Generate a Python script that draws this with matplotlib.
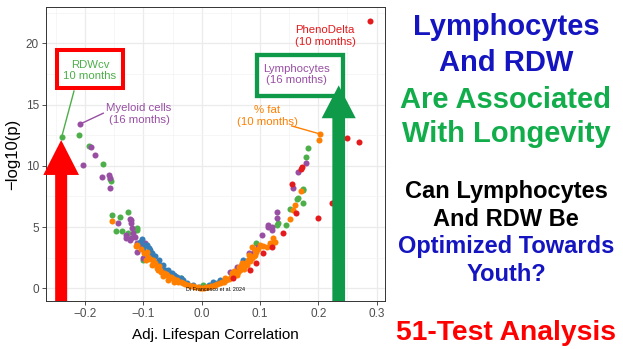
import matplotlib
matplotlib.use('Agg')
import matplotlib.pyplot as plt
from matplotlib.patches import Polygon, Rectangle
from matplotlib.ticker import MultipleLocator

plt.rcParams['font.family'] = ['Liberation Sans', 'DejaVu Sans']

# Colores (Set1)
C_GREEN = '#4DAF4A'
C_PURPLE = '#984EA3'
C_BLUE = '#377EB8'
C_ORANGE = '#FF7F00'
C_RED = '#E41A1C'

# Datos: correlación ajustada vs -log10(p)
green_x = [-0.240, -0.2105, -0.193, -0.170, -0.157, -0.156, -0.154, -0.140, -0.127, -0.137,
           -0.111, -0.126, -0.1115, -0.100, -0.036, 0.164, 0.174, 0.174, 0.183, 0.179,
           0.173, 0.165, 0.145, 0.131, 0.094, 0.151, 0.129, -0.147, 0.003]
green_y = [12.37, 12.5, 11.6, 10.15, 8.9, 8.75, 5.98, 5.8, 6.25, 4.68,
           4.9, 4.49, 4.76, 2.31, 0.82, 7.3, 8.0, 6.94, 11.43, 10.74,
           8.08, 7.35, 5.17, 5.3, 3.67, 6.5, 5.17, 4.7, 0.3]

purple_x = [-0.2087, -0.190, -0.1835, -0.203, -0.1715, -0.159, -0.158, -0.157, -0.143, -0.122,
            -0.120, -0.129, -0.121, -0.123, -0.121, -0.123, -0.114, -0.106, -0.097, -0.111,
            -0.111, -0.100, -0.0715, -0.060, -0.045, -0.130, -0.117,
            0.236, 0.179, 0.165, 0.156, 0.129, 0.130, 0.114, 0.120, 0.103, 0.082,
            0.060, 0.114, 0.120, 0.097, 0.070, 0.090, 0.048, 0.085]
purple_y = [13.4, 11.56, 10.9, 10.06, 9.1, 9.27, 8.2, 8.98, 5.3, 5.58,
            4.9, 4.35, 4.08, 5.63, 5.36, 3.94, 4.21, 3.53, 3.67, 2.99,
            3.67, 2.45, 1.49, 1.3, 1.0, 4.1, 4.5,
            17.0, 10.25, 9.49, 8.16, 6.25, 5.71, 5.03, 4.76, 4.35, 2.86,
            1.76, 5.17, 4.98, 3.4, 2.0, 3.0, 1.3, 2.6]

blue_x = [-0.106, -0.097, -0.094, -0.097, -0.089, -0.083, -0.077, -0.0715, -0.063, -0.054,
          -0.051, -0.043, -0.040, -0.032, -0.025, -0.015, -0.005, 0.0086, 0.020, 0.031,
          0.071, -0.100, -0.092, -0.086, -0.080, -0.074, -0.066, -0.058, -0.103, -0.091,
          -0.070, -0.047, -0.036, 0.012, 0.026]
blue_y = [3.8, 3.53, 3.53, 2.99, 3.13, 2.58, 2.17, 1.9, 1.49, 1.22,
          1.22, 0.95, 0.68, 0.68, 0.45, 0.3, 0.1, 0.13, 0.54, 0.68,
          2.31, 3.3, 2.8, 2.9, 2.6, 2.3, 1.9, 1.5, 4.0, 3.3,
          1.7, 1.05, 0.8, 0.25, 0.45]

orange_x = [-0.153, -0.113, -0.111, -0.104, -0.099, -0.094, -0.092, -0.089, -0.086, -0.083,
            -0.080, -0.077, -0.074, -0.071, -0.069, -0.065, -0.062, -0.060, -0.056, -0.053,
            -0.051, -0.047, -0.043, -0.040, -0.036, -0.032, -0.028, -0.023, -0.019, -0.015,
            -0.0115, -0.007, -0.003, 0.0, 0.004, 0.008, 0.0113, 0.016, 0.020, 0.023,
            0.027, 0.031, 0.034, 0.038, 0.042, 0.046, 0.050, 0.054, 0.058, 0.060,
            0.063, 0.066, 0.069, 0.072, 0.074, 0.077, 0.077, 0.080, 0.083, 0.086,
            0.086, 0.089, 0.091, 0.094, 0.096, 0.100, 0.1125, 0.117, 0.1245, 0.123,
            0.126, 0.151, 0.157, 0.160, 0.170, 0.201, 0.203, 0.055, 0.070,
            -0.095, -0.084, -0.075, -0.066, -0.057, -0.048, 0.040, 0.052, 0.064, 0.081,
            0.092, 0.106]
orange_y = [5.52, 3.48, 3.53, 3.2, 2.9, 2.99, 2.58, 2.4, 1.9, 2.31,
            2.1, 1.63, 1.8, 1.5, 1.36, 1.25, 1.15, 1.09, 0.95, 0.88,
            0.82, 0.75, 0.68, 0.55, 0.5, 0.41, 0.35, 0.27, 0.2, 0.16,
            0.13, 0.08, 0.04, 0.02, 0.05, 0.09, 0.13, 0.18, 0.22, 0.27,
            0.33, 0.4, 0.49, 0.55, 0.65, 0.76, 0.9, 1.09, 1.2, 1.05,
            1.36, 1.49, 1.76, 1.6, 2.0, 2.17, 1.9, 2.3, 2.2, 2.45,
            3.4, 2.6, 2.72, 2.99, 3.2, 3.53, 3.4, 3.67, 3.8, 4.08,
            3.8, 5.63, 6.4, 6.8, 7.9, 12.1, 12.57, 1.4, 2.1,
            2.3, 1.95, 1.45, 1.0, 0.7, 0.5, 0.8, 1.25, 1.7, 2.7,
            3.1, 3.45]

red_x = [0.2887, 0.249, 0.269, 0.172, 0.170, 0.155, 0.223, 0.200, 0.139, 0.120,
         0.094, 0.083, 0.054, 0.162, 0.106]
red_y = [21.85, 12.3, 11.9, 9.93, 9.7, 8.5, 7.0, 5.7, 4.49, 3.4,
         2.04, 1.49, 0.82, 6.17, 2.9]

x_ticks = [-0.2, -0.1, 0.0, 0.1, 0.2, 0.3]
x_ticklabels = ['\u22120.2', '\u22120.1', '0.0', '0.1', '0.2', '0.3']
y_ticks = [0, 5, 10, 15, 20]

# Índices de los puntos destacados
i_rdw = 0          # green
i_myeloid = 0      # purple
i_lymph = 27       # purple
i_fat = 76         # orange
i_pheno = 0        # red

W, H = 623, 349
fig = plt.figure(figsize=(W / 100, H / 100), dpi=100)
ax = fig.add_axes([46 / W, 1 - 301 / H, (385 - 46) / W, (301 - 7) / H])

ax.set_xlim(-0.267, 0.3144)
ax.set_ylim(-1.04, 22.96)
ax.set_xticks(x_ticks)
ax.set_xticklabels(x_ticklabels)
ax.set_yticks(y_ticks)
ax.xaxis.set_minor_locator(MultipleLocator(0.05))
ax.yaxis.set_minor_locator(MultipleLocator(2.5))
ax.grid(which='major', color='#EBEBEB', lw=0.9, zorder=0)
ax.grid(which='minor', color='#F3F3F3', lw=0.5, zorder=0)
ax.set_axisbelow(True)
ax.tick_params(which='major', length=3, width=0.6, color='#333333', labelsize=8.5,
               labelcolor='#4D4D4D', pad=2)
ax.tick_params(which='minor', length=0)
for s in ax.spines.values():
    s.set_color('#333333')
    s.set_linewidth(0.7)

ax.set_xlabel('Adj. Lifespan Correlation', fontsize=11, color='black', labelpad=6)
ax.set_ylabel('\u2212log10(p)', fontsize=12, color='black', labelpad=4)

pt = 19
ax.scatter(green_x, green_y, s=pt, color=C_GREEN, lw=0, zorder=3)
ax.scatter(purple_x, purple_y, s=pt, color=C_PURPLE, lw=0, zorder=3)
ax.scatter(blue_x, blue_y, s=pt, color=C_BLUE, lw=0, zorder=3)
ax.scatter(orange_x, orange_y, s=pt, color=C_ORANGE, lw=0, zorder=3)
ax.scatter(red_x, red_y, s=pt, color=C_RED, lw=0, zorder=3)

ax.text(0.0237, -0.14, 'Di Francesco et al. 2024', fontsize=3.9, ha='center', va='center', zorder=4)

# Etiquetas
lab_fs = 8.2
ax.add_patch(Rectangle((-0.2477, 16.35), 0.1122, 3.13, facecolor='white', edgecolor='#FF0000',
                       lw=2.9, zorder=5, clip_on=False))
ax.text(-0.1916, 17.8, 'RDWcv\n10 months', color=C_GREEN, fontsize=lab_fs, ha='center',
        va='center', linespacing=1.15, zorder=6)
ax.plot([green_x[i_rdw], -0.219], [green_y[i_rdw], 16.1], color=C_GREEN, lw=1, zorder=4)

ax.text(-0.1075, 14.23, 'Myeloid cells\n(16 months)', color=C_PURPLE, fontsize=lab_fs,
        ha='center', va='center', linespacing=1.15, zorder=6)
ax.plot([purple_x[i_myeloid], -0.1688], [purple_y[i_myeloid], 14.29], color=C_PURPLE, lw=1, zorder=4)

ax.text(0.2115, 20.6, 'PhenoDelta\n(10 months)', color=C_RED, fontsize=lab_fs,
        ha='center', va='center', linespacing=1.15, zorder=6)

ax.text(0.1123, 14.06, '% fat\n(10 months)', color=C_ORANGE, fontsize=lab_fs,
        ha='center', va='center', linespacing=1.15, zorder=6)
ax.plot([0.1544, orange_x[i_fat] - 0.002], [13.25, orange_y[i_fat] + 0.05], color=C_ORANGE, lw=1, zorder=4)

ax.add_patch(Rectangle((0.0952, 15.69), 0.148, 3.36, facecolor='white', edgecolor='#0E9A48',
                       lw=3.1, zorder=5, clip_on=False))
ax.text(0.163, 17.45, 'Lymphocytes\n(16 months)', color=C_PURPLE, fontsize=lab_fs,
        ha='center', va='center', linespacing=1.15, zorder=6)


def flecha(xc, y_tip, y_base, half_shaft, half_head, color):
    y0 = ax.get_ylim()[0]
    pts = [(xc - half_shaft, y0), (xc - half_shaft, y_base), (xc - half_head, y_base),
           (xc, y_tip), (xc + half_head, y_base), (xc + half_shaft, y_base), (xc + half_shaft, y0)]
    ax.add_patch(Polygon(pts, closed=True, facecolor=color, edgecolor='none', zorder=7, clip_on=False))


flecha(green_x[i_rdw] - 0.001, green_y[i_rdw] - 0.27, 9.25, 0.0103, 0.0306, '#FF0000')
flecha(purple_x[i_lymph] - 0.001, purple_y[i_lymph] - 0.44, 13.88, 0.0109, 0.0292, '#0E9A48')

# Texto a la derecha
BLUE_T = '#1414C0'
GREEN_T = '#12AD4B'
lineas = [
    ('Lymphocytes', 35, 21, BLUE_T),
    ('And RDW', 71, 21, BLUE_T),
    ('Are Associated', 108.3, 21, GREEN_T),
    ('With Longevity', 141.7, 21, GREEN_T),
    ('Can Lymphocytes', 197.7, 17, 'black'),
    ('And RDW Be', 225.7, 17, 'black'),
    ('Optimized Towards', 253.3, 17, BLUE_T),
    ('Youth?', 281, 17, BLUE_T),
    ('51-Test Analysis', 340, 20.3, '#FF0000'),
]
for txt, yb, fs, col in lineas:
    fig.text(506 / W, 1 - yb / H, txt, ha='center', va='baseline', fontsize=fs,
             fontweight='bold', color=col)

plt.savefig('out.png', dpi=100)
plt.close()
